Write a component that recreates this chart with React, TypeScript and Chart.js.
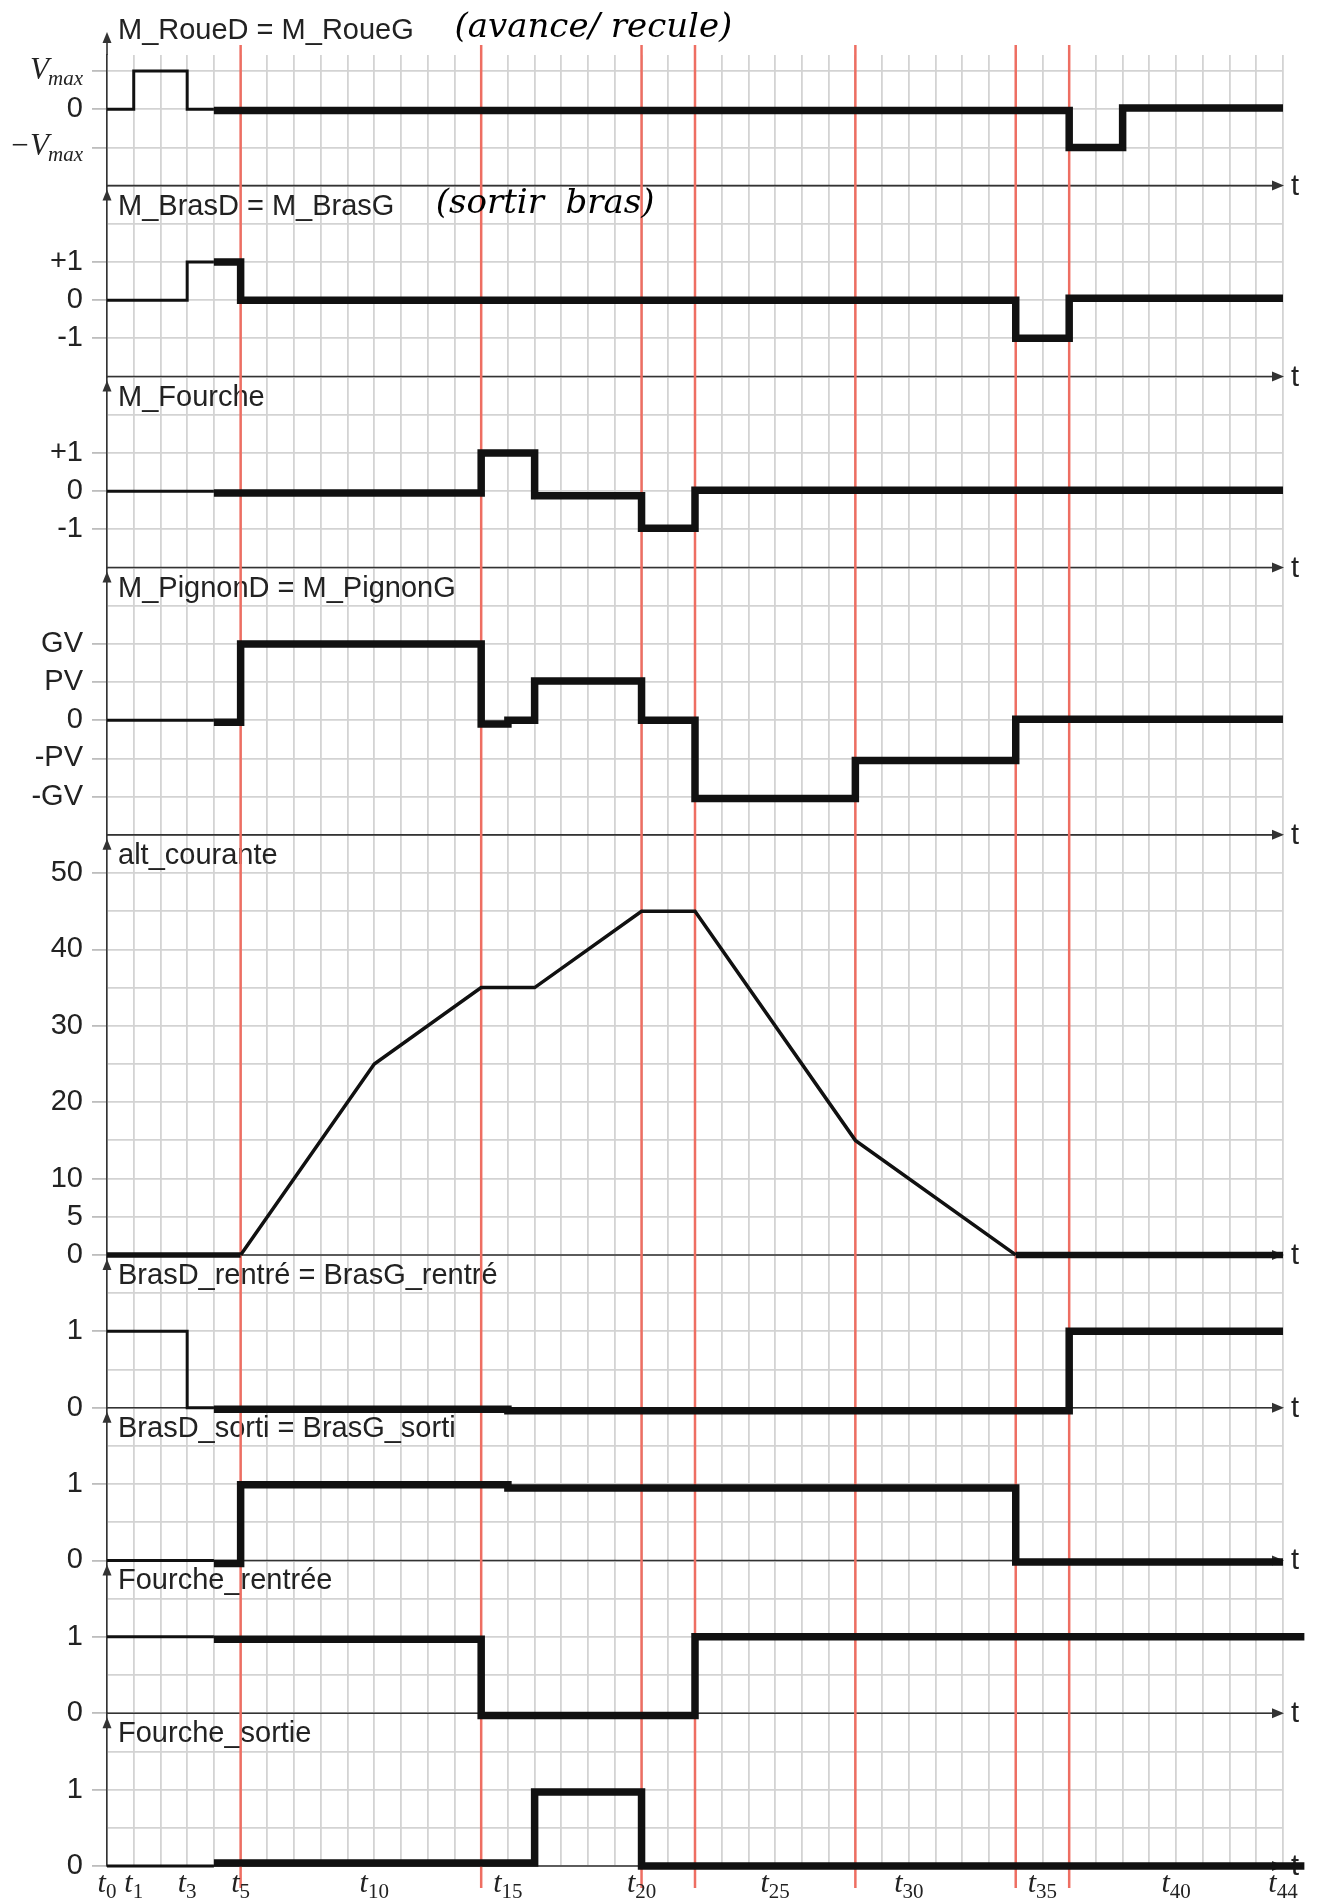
import React, { useEffect, useRef } from 'react';
import { Chart, registerables } from 'chart.js';

Chart.register(...registerables);

// ---------- time axis ----------
const T_MIN = 0;
const T_MAX = 44;
const timeLabelIndices = [0, 1, 3, 5, 10, 15, 20, 25, 30, 35, 40, 44];
const redLineTimes = [5, 14, 20, 22, 28, 34, 36];

// ---------- panel 1 : M_RoueD = M_RoueG ----------
const roueGivenT = [0, 1, 3, 4];
const roueGivenV = [0, 1, 0, 0];
const roueDrawnT = [4, 36, 38, 44];
const roueDrawnV = [-0.03, -1, 0.03, 0.03];

// ---------- panel 2 : M_BrasD = M_BrasG ----------
const brasGivenT = [0, 3, 4];
const brasGivenV = [0, 1, 1];
const brasDrawnT = [4, 5, 34, 36, 44];
const brasDrawnV = [1, 0, -1, 0.05, 0.05];

// ---------- panel 3 : M_Fourche ----------
const fourcheGivenT = [0, 4];
const fourcheGivenV = [0, 0];
const fourcheDrawnT = [4, 14, 16, 20, 22, 44];
const fourcheDrawnV = [-0.05, 1, -0.12, -0.97, 0.02, 0.02];

// ---------- panel 4 : M_PignonD = M_PignonG ----------
const pignonGivenT = [0, 4];
const pignonGivenV = [0, 0];
const pignonDrawnT = [4, 5, 14, 15, 16, 20, 22, 28, 34, 44];
const pignonDrawnV = [-0.05, 2, -0.1, 0, 1.03, 0, -2.05, -1.05, 0.03, 0.03];

// ---------- panel 5 : alt_courante ----------
const altGivenT = [5, 10, 14, 16, 20, 22, 28, 34];
const altGivenV = [0, 25, 35, 35, 45, 45, 15, 0];
const altDrawnStartT = [0, 5];
const altDrawnStartV = [0, 0];
const altDrawnEndT = [34, 44];
const altDrawnEndV = [0, 0];

// ---------- panel 6 : BrasD_rentré = BrasG_rentré ----------
const rentreGivenT = [0, 3, 4];
const rentreGivenV = [1, 0, 0];
const rentreDrawnT = [4, 15, 36, 44];
const rentreDrawnV = [-0.02, -0.04, 1, 1];

// ---------- panel 7 : BrasD_sorti = BrasG_sorti ----------
const sortiGivenT = [0, 4];
const sortiGivenV = [0, 0];
const sortiDrawnT = [4, 5, 15, 34, 44];
const sortiDrawnV = [-0.04, 0.99, 0.95, -0.02, -0.02];

// ---------- panel 8 : Fourche_rentrée ----------
const fRentreeGivenT = [0, 4];
const fRentreeGivenV = [1, 1];
const fRentreeDrawnT = [4, 14, 22, 44.8];
const fRentreeDrawnV = [0.97, -0.03, 1, 1];

// ---------- panel 9 : Fourche_sortie ----------
const fSortieGivenT = [0, 4];
const fSortieGivenV = [0, 0];
const fSortieDrawnT = [4, 16, 20, 44.8];
const fSortieDrawnV = [0.04, 0.97, 0, 0];

// ---------- panels ----------
const panelTitles = [
  'M_RoueD = M_RoueG',
  'M_BrasD = M_BrasG',
  'M_Fourche',
  'M_PignonD = M_PignonG',
  'alt_courante',
  'BrasD_rentré = BrasG_rentré',
  'BrasD_sorti = BrasG_sorti',
  'Fourche_rentrée',
  'Fourche_sortie',
];
const panelMin = [-2, -2, -2, -3, 0, 0, 0, 0, 0];
const panelMax = [1.42, 3, 3, 4, 55, 2, 2, 2, 2];
const panelStep = [1, 1, 1, 1, 5, 0.5, 0.5, 0.5, 0.5];
const panelTickValues = [
  [1, 0, -1],
  [1, 0, -1],
  [1, 0, -1],
  [2, 1, 0, -1, -2],
  [50, 40, 30, 20, 10, 5, 0],
  [1, 0],
  [1, 0],
  [1, 0],
  [1, 0],
];
const panelTickLabels = [
  ['Vmax', '0', '−Vmax'],
  ['+1', '0', '-1'],
  ['+1', '0', '-1'],
  ['GV', 'PV', '0', '-PV', '-GV'],
  ['50', '40', '30', '20', '10', '5', '0'],
  ['1', '0'],
  ['1', '0'],
  ['1', '0'],
  ['1', '0'],
];
// labels of panel 1 written as V with subscript "max"
const vmaxValues = [1, -1];
const vmaxPrefix = ['', '−'];

// hand-written notes
const noteTexts = ['(avance/ recule)', '(sortir  bras)'];
const notePanel = [0, 1];
const noteT = [13, 12.3];

const SANS = '"Liberation Sans", Arial, Helvetica, sans-serif';
const SERIF = '"Liberation Serif", "DejaVu Serif", "Times New Roman", serif';
const RED = 'rgb(238, 110, 98)';
const GRID = '#d3d3d3';
const AXIS = '#333';
const TICK_LEN = 15;
const TICK_PAD = 9;

const yId = (i: number) => 'y' + (i + 1);

function pts(T: number[], V: number[]) {
  return T.map((t, k) => ({ x: t, y: V[k] }));
}

function ds(T: number[], V: number[], panel: number, width: number, stepped: boolean, noClip = false) {
  return {
    data: pts(T, V),
    yAxisID: yId(panel),
    borderColor: '#111',
    backgroundColor: '#111',
    borderWidth: width,
    pointRadius: 0,
    pointHoverRadius: 0,
    stepped: stepped ? true : false,
    tension: 0,
    fill: false,
    borderJoinStyle: 'miter',
    borderCapStyle: 'butt',
    clip: noClip ? false : 12,
  } as any;
}

const THIN = 3;
const THICK = 7.5;

function arrowRight(ctx: CanvasRenderingContext2D, x: number, y: number) {
  ctx.beginPath();
  ctx.moveTo(x + 1, y);
  ctx.lineTo(x - 11, y - 5);
  ctx.lineTo(x - 11, y + 5);
  ctx.closePath();
  ctx.fill();
}
function arrowUp(ctx: CanvasRenderingContext2D, x: number, y: number) {
  ctx.beginPath();
  ctx.moveTo(x, y);
  ctx.lineTo(x - 4.5, y + 11);
  ctx.lineTo(x + 4.5, y + 11);
  ctx.closePath();
  ctx.fill();
}

const decorPlugin = {
  id: 'decor',
  beforeDatasetsDraw(chart: any) {
    const { ctx, chartArea, scales } = chart;
    const xs = scales.x;
    ctx.save();
    panelTitles.forEach((title: string, i: number) => {
      const s = scales[yId(i)];
      const yb = s.getPixelForValue(panelMin[i]);
      ctx.strokeStyle = AXIS;
      ctx.fillStyle = AXIS;
      ctx.lineWidth = 1.6;
      ctx.beginPath();
      ctx.moveTo(chartArea.left, yb);
      ctx.lineTo(chartArea.right - 4, yb);
      ctx.stroke();
      arrowRight(ctx, chartArea.right, yb);
      ctx.font = '29px ' + SANS;
      ctx.textAlign = 'left';
      ctx.textBaseline = 'middle';
      ctx.fillStyle = '#222';
      ctx.fillText('t', chartArea.right + 8, yb + 1);
      ctx.fillStyle = AXIS;
      if (i === 0) {
        ctx.beginPath();
        ctx.moveTo(chartArea.left, s.top - 20);
        ctx.lineTo(chartArea.left, s.top);
        ctx.stroke();
        arrowUp(ctx, chartArea.left, s.top - 23);
      } else {
        arrowUp(ctx, chartArea.left, s.top + 4);
      }
      ctx.fillStyle = '#222';
      ctx.font = '29px ' + SANS;
      ctx.fillText(title, chartArea.left + 11, i === 0 ? s.top - 24 : s.top + 21);
    });
    // red event lines
    ctx.strokeStyle = RED;
    ctx.lineWidth = 2.5;
    redLineTimes.forEach((t) => {
      const px = xs.getPixelForValue(t);
      ctx.beginPath();
      ctx.moveTo(px, chartArea.top - 10);
      ctx.lineTo(px, chartArea.bottom + 22);
      ctx.stroke();
    });
    ctx.restore();
  },
  afterDatasetsDraw(chart: any) {
    const { ctx, scales, chartArea } = chart;
    const xs = scales.x;
    ctx.save();
    // time labels t_n with subscript
    ctx.fillStyle = '#222';
    ctx.textAlign = 'left';
    ctx.textBaseline = 'alphabetic';
    const tFont = 'italic 30px ' + SERIF;
    const dFont = '21px ' + SERIF;
    timeLabelIndices.forEach((n) => {
      const px = xs.getPixelForValue(n);
      ctx.font = tFont;
      const wt = ctx.measureText('t').width;
      ctx.font = dFont;
      const wd = ctx.measureText(String(n)).width;
      const x0 = px - (wt + wd) / 2;
      const base = chartArea.bottom + 26;
      ctx.font = tFont;
      ctx.fillText('t', x0, base);
      ctx.font = dFont;
      ctx.fillText(String(n), x0 + wt, base + 6);
    });
    // V_max labels of panel 1
    const s1 = scales[yId(0)];
    const xr = chartArea.left - TICK_LEN - TICK_PAD + 1;
    vmaxValues.forEach((v, k) => {
      const py = s1.getPixelForValue(v);
      ctx.font = 'italic 21px ' + SERIF;
      const wm = ctx.measureText('max').width;
      ctx.font = 'italic 31px ' + SERIF;
      const wv = ctx.measureText(vmaxPrefix[k] + 'V').width;
      const base = py + 8;
      ctx.fillText(vmaxPrefix[k] + 'V', xr - wm - wv, base);
      ctx.font = 'italic 21px ' + SERIF;
      ctx.fillText('max', xr - wm - 1, base + 6);
    });
    // hand-written notes
    ctx.fillStyle = '#000';
    ctx.font = 'italic 34px "DejaVu Serif", serif';
    ctx.textBaseline = 'middle';
    noteTexts.forEach((txt, k) => {
      const s = scales[yId(notePanel[k])];
      const y = notePanel[k] === 0 ? s.top - 27 : s.top + 19;
      ctx.fillText(txt, xs.getPixelForValue(noteT[k]), y);
    });
    ctx.restore();
  },
};

export default function App() {
  const ref = useRef<HTMLCanvasElement>(null);

  useEffect(() => {
    const canvas = ref.current;
    if (!canvas) return;

    const datasets: any[] = [
      ds(roueGivenT, roueGivenV, 0, THIN, true),
      ds(roueDrawnT, roueDrawnV, 0, THICK, true),
      ds(brasGivenT, brasGivenV, 1, THIN, true),
      ds(brasDrawnT, brasDrawnV, 1, THICK, true),
      ds(fourcheGivenT, fourcheGivenV, 2, THIN, true),
      ds(fourcheDrawnT, fourcheDrawnV, 2, THICK, true),
      ds(pignonGivenT, pignonGivenV, 3, THIN, true),
      ds(pignonDrawnT, pignonDrawnV, 3, THICK, true),
      ds(altGivenT, altGivenV, 4, 3.5, false),
      ds(altDrawnStartT, altDrawnStartV, 4, 5.5, false),
      ds(altDrawnEndT, altDrawnEndV, 4, 6.5, false),
      ds(rentreGivenT, rentreGivenV, 5, THIN, true),
      ds(rentreDrawnT, rentreDrawnV, 5, THICK, true),
      ds(sortiGivenT, sortiGivenV, 6, THIN, true),
      ds(sortiDrawnT, sortiDrawnV, 6, THICK, true),
      ds(fRentreeGivenT, fRentreeGivenV, 7, THIN, true),
      ds(fRentreeDrawnT, fRentreeDrawnV, 7, THICK, true, true),
      ds(fSortieGivenT, fSortieGivenV, 8, THIN, true),
      ds(fSortieDrawnT, fSortieDrawnV, 8, THICK, true, true),
    ];

    const scales: any = {
      x: {
        type: 'linear',
        position: 'bottom',
        min: T_MIN,
        max: T_MAX,
        afterBuildTicks: (s: any) => {
          const arr: any[] = [];
          for (let k = T_MIN; k <= T_MAX; k++) arr.push({ value: k });
          s.ticks = arr;
        },
        afterFit: (s: any) => {
          s.height = 35;
        },
        ticks: {
          autoSkip: false,
          maxRotation: 0,
          minRotation: 0,
          callback: () => '',
        },
        grid: { color: GRID, lineWidth: 1.8, drawTicks: false },
        border: { display: false },
      },
    };

    panelTitles.forEach((_, i) => {
      const vals = panelTickValues[i];
      const labs = panelTickLabels[i];
      const isLabeled = (v: number) => vals.some((u) => Math.abs(u - v) < 1e-6);
      scales[yId(i)] = {
        type: 'linear',
        position: 'left',
        stack: 'panels',
        stackWeight: (panelMax[i] - panelMin[i]) / panelStep[i],
        weight: 20 - i,
        min: panelMin[i],
        max: panelMax[i],
        afterBuildTicks: (s: any) => {
          const arr: any[] = [];
          for (let v = panelMin[i]; v <= panelMax[i] + 1e-9; v += panelStep[i]) {
            arr.push({ value: Math.round(v * 1000) / 1000 });
          }
          s.ticks = arr;
        },
        afterFit: (s: any) => {
          s.width = 100;
        },
        ticks: {
          autoSkip: false,
          padding: TICK_PAD,
          color: '#222',
          font: { family: SANS, size: 29 },
          callback: (v: number) => {
            if (i === 0 && vmaxValues.some((u) => Math.abs(u - v) < 1e-6)) return '';
            const k = vals.findIndex((u) => Math.abs(u - v) < 1e-6);
            return k >= 0 ? labs[k] : '';
          },
        },
        grid: {
          color: GRID,
          lineWidth: 1.8,
          tickLength: TICK_LEN,
          drawTicks: true,
          tickColor: (c: any) => (c.tick && isLabeled(c.tick.value) ? '#bdbdbd' : 'rgba(0,0,0,0)'),
          tickWidth: 1.8,
        },
        border: { display: true, color: AXIS, width: 1.6 },
      };
    });

    const chart = new Chart(canvas, {
      type: 'line',
      data: { datasets },
      options: {
        responsive: false,
        maintainAspectRatio: false,
        animation: false,
        layout: { padding: { top: 55, left: 7, right: 36, bottom: 0 } },
        plugins: {
          legend: { display: false },
          tooltip: { enabled: false },
          title: { display: false },
        },
        events: [],
        scales,
      } as any,
      plugins: [decorPlugin as any],
    });

    return () => chart.destroy();
  }, []);

  return (
    <div style={{ position: 'absolute', left: 0, top: 0, width: 1319, height: 1901, background: '#fff' }}>
      <canvas ref={ref} width={1319} height={1901} style={{ display: 'block' }} />
    </div>
  );
}
